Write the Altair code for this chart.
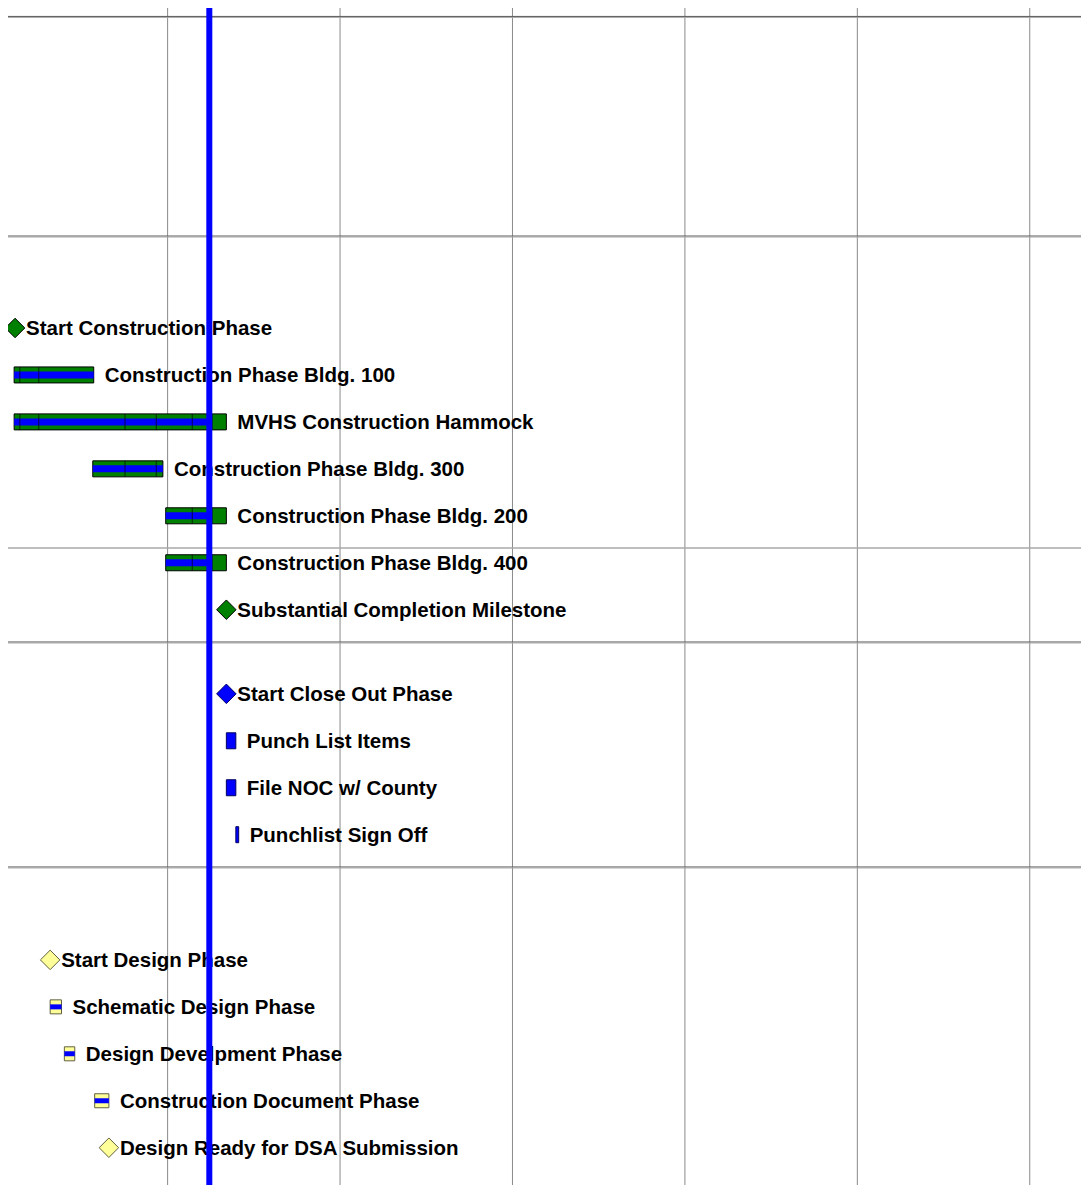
import altair as alt
import pandas as pd

# ---------------- data ----------------
task_names = [
    "Start Construction Phase",
    "Construction Phase Bldg. 100",
    "MVHS Construction Hammock",
    "Construction Phase Bldg. 300",
    "Construction Phase Bldg. 200",
    "Construction Phase Bldg. 400",
    "Substantial Completion Milestone",
    "Start Close Out Phase",
    "Punch List Items",
    "File NOC w/ County",
    "Punchlist Sign Off",
    "Start Design Phase",
    "Schematic Design Phase",
    "Design Develpment Phase",
    "Construction Document Phase",
    "Design Ready for DSA Submission",
]
task_groups = ["Construction"] * 7 + ["Close Out"] * 4 + ["Design"] * 5
task_is_milestone = [True, False, False, False, False, False, True,
                     True, False, False, False,
                     True, False, False, False, True]
# start / finish in project days
task_start = [10.5, 10, 10, 51.5, 90, 90, 122,
              122, 122, 122, 127,
              29, 29, 36.5, 52.5, 60]
task_finish = [10.5, 52, 122, 88.5, 122, 122, 122,
               122, 127, 127, 128.5,
               29, 35, 42, 60, 60]
task_pct_complete = [0, 100, 92, 100, 72, 72, 0,
                     0, 0, 0, 0,
                     0, 100, 100, 100, 0]
# segment boundaries drawn inside bars (project days)
task_segments = [[], [13, 23], [13, 23, 68.5, 85, 104, 113, 114.5], [68.5, 85],
                 [104, 113, 114.5], [104, 113, 114.5], [],
                 [], [], [], [],
                 [], [], [], [], []]
status_day = 113
grid_days = [91, 182, 273, 364, 455, 546]

# ---------------- layout / style (code side) ----------------
PX_PER_DAY = 175 / 91
ORIGIN_PX = -13
REF_W, REF_H = 1089, 1193
W, H = 1073, 1177
ROW_STEP = 48
FIRST_ROW = {"Construction": 322, "Close Out": 696, "Design": 968}
SEP_DARK = [3.5, 228, 643, 873]
SEP_LIGHT = [547]

group_dom = ["Construction", "Close Out", "Design"]
fill_rng = ["#008000", "#0000ff", "#ffff99"]
stroke_rng = ["#000000", "#000060", "#606040"]
bar_h = {"Construction": 16, "Close Out": 16, "Design": 14}
prog_h = {"Construction": 7, "Close Out": 0, "Design": 5}

rows = []
counter = {g: 0 for g in group_dom}
for i, n in enumerate(task_names):
    g = task_groups[i]
    y = FIRST_ROW[g] + ROW_STEP * counter[g]
    counter[g] += 1
    pend = task_start[i] + task_pct_complete[i] / 100 * (task_finish[i] - task_start[i])
    rows.append(dict(name=n, group=g, ms=task_is_milestone[i], start=task_start[i],
                     finish=task_finish[i], pend=pend, pct=task_pct_complete[i], y=y,
                     bh=bar_h[g], ph=prog_h[g]))
df = pd.DataFrame(rows)
bars = df[~df.ms]
prog = bars[bars.pct > 0]
miles = df[df.ms]
segs = pd.DataFrame([dict(x=s, y=rows[i]["y"]) for i in range(len(rows)) for s in task_segments[i]])

x_lo = (0 - ORIGIN_PX) / PX_PER_DAY
x_hi = (REF_W - ORIGIN_PX) / PX_PER_DAY
xs = alt.Scale(domain=[x_lo, x_hi], nice=False, zero=False)
ys = alt.Scale(domain=[0, REF_H], nice=False, zero=False, reverse=True)
fill_sc = alt.Scale(domain=group_dom, range=fill_rng)
stroke_sc = alt.Scale(domain=group_dom, range=stroke_rng)

grid = alt.Chart(pd.DataFrame({"d": grid_days})).mark_rule(color="#8a8a8a", strokeWidth=1).encode(
    x=alt.X("d:Q", scale=xs, axis=None))
sep_d = alt.Chart(pd.DataFrame({"y": SEP_DARK})).mark_rule(color="#555555", strokeWidth=1).encode(
    y=alt.Y("y:Q", scale=ys, axis=None))
sep_l = alt.Chart(pd.DataFrame({"y": SEP_DARK})).mark_rule(color="#a8a8a8", strokeWidth=1, yOffset=1).encode(
    y=alt.Y("y:Q", scale=ys, axis=None))
sep_l2 = alt.Chart(pd.DataFrame({"y": SEP_LIGHT})).mark_rule(color="#a8a8a8", strokeWidth=1.5).encode(
    y=alt.Y("y:Q", scale=ys, axis=None))

bar_layer = alt.Chart(bars).mark_bar(orient="horizontal", strokeWidth=1).encode(
    x=alt.X("start:Q", scale=xs, axis=None),
    x2="finish:Q",
    y=alt.Y("y:Q", scale=ys, axis=None),
    size=alt.Size("bh:Q", scale=None),
    fill=alt.Fill("group:N", scale=fill_sc, legend=None),
    stroke=alt.Stroke("group:N", scale=stroke_sc, legend=None),
)
prog_layer = alt.Chart(prog).mark_bar(orient="horizontal", color="#0000ff").encode(
    x=alt.X("start:Q", scale=xs, axis=None),
    x2="pend:Q",
    y=alt.Y("y:Q", scale=ys, axis=None),
    size=alt.Size("ph:Q", scale=None),
)
seg_layer = alt.Chart(segs).mark_tick(orient="vertical", size=16, thickness=1, color="#000000").encode(
    x=alt.X("x:Q", scale=xs, axis=None),
    y=alt.Y("y:Q", scale=ys, axis=None),
)
mile_layer = alt.Chart(miles).mark_point(shape="diamond", filled=True, size=380, strokeWidth=1, opacity=1).encode(
    x=alt.X("start:Q", scale=xs, axis=None),
    y=alt.Y("y:Q", scale=ys, axis=None),
    fill=alt.Fill("group:N", scale=fill_sc, legend=None),
    stroke=alt.Stroke("group:N", scale=stroke_sc, legend=None),
)
text_layer = alt.Chart(df).mark_text(align="left", baseline="middle", dx=11, dy=1,
                                     font="Liberation Sans", fontWeight="bold", fontSize=20.5,
                                     color="#000000").encode(
    x=alt.X("finish:Q", scale=xs, axis=None),
    y=alt.Y("y:Q", scale=ys, axis=None),
    text="name:N",
)
today = alt.Chart(pd.DataFrame({"d": [status_day]})).mark_rule(color="#0000ff", strokeWidth=6).encode(
    x=alt.X("d:Q", scale=xs, axis=None))

chart = alt.layer(grid, sep_l2, sep_d, sep_l, bar_layer, prog_layer, seg_layer, mile_layer,
                  text_layer, today).properties(
    width=W, height=H, padding=0, autosize=alt.AutoSizeParams(type="none")
).configure_view(stroke=None)

chart.save("out.html", embed_options={"renderer": "svg", "actions": False})
